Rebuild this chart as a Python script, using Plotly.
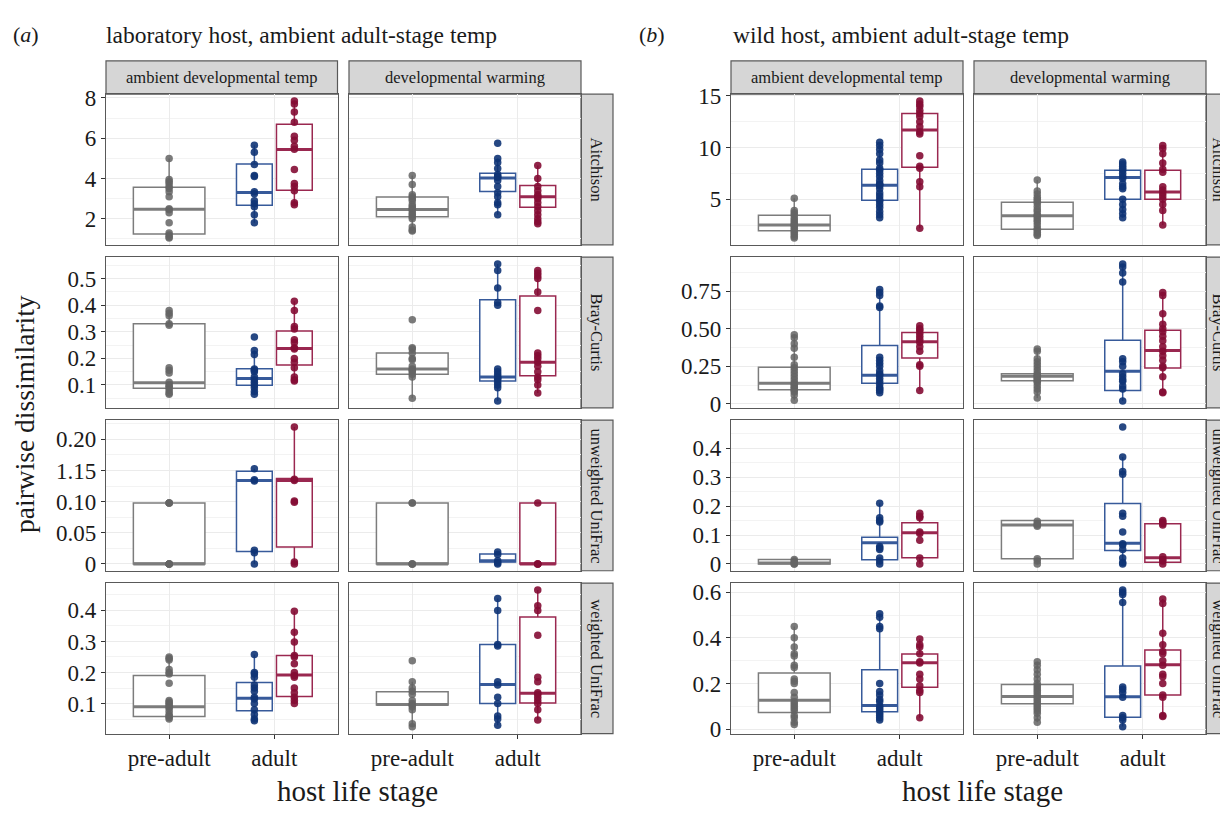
import plotly.graph_objects as go

W, H = 1228, 813          # target picture size
OFF = 8                   # page body margin that shifts the figure
FIG_W, FIG_H = W - OFF, H - OFF
SERIF = "Liberation Serif, Times New Roman, serif"

STAGES = ["pre-adult", "adult"]
DEV_TEMPS = ["ambient developmental temp", "developmental warming"]
METRICS = ["Aitchison", "Bray-Curtis", "unweighted UniFrac", "weighted UniFrac"]
LAB_TITLE = "laboratory host, ambient adult-stage temp"
WILD_TITLE = "wild host, ambient adult-stage temp"
Y_TITLE = "pairwise dissimilarity"
X_TITLE = "host life stage"

LAB_YTICKS = [[2, 4, 6, 8], [0.1, 0.2, 0.3, 0.4, 0.5], [0, 0.05, 0.10, 0.15, 0.20], [0.1, 0.2, 0.3, 0.4]]
LAB_YTICKTEXT = [["2", "4", "6", "8"], ["0.1", "0.2", "0.3", "0.4", "0.5"],
                 ["0", "0.05", "0.10", "1.15", "0.20"], ["0.1", "0.2", "0.3", "0.4"]]
WILD_YTICKS = [[5, 10, 15], [0, 0.25, 0.5, 0.75], [0, 0.1, 0.2, 0.3, 0.4], [0, 0.2, 0.4, 0.6]]
WILD_YTICKTEXT = [["5", "10", "15"], ["0", "0.25", "0.50", "0.75"],
                  ["0", "0.1", "0.2", "0.3", "0.4"], ["0", "0.2", "0.4", "0.6"]]

# ---------------- (a) laboratory host ----------------
# points per group; box stats = [lower whisker, q1, median, q3, upper whisker]
lab_ait_amb_pts = {"grey": [5.0, 3.95, 3.85, 3.75, 3.6, 3.5, 3.35, 3.1, 2.5, 2.45, 2.3, 1.8, 1.3, 1.2, 1.1, 1.05],
                   "blue": [5.65, 5.3, 4.7, 4.15, 4.1, 3.35, 3.25, 2.9, 2.75, 2.6, 2.2, 1.8],
                   "red": [7.85, 7.7, 7.3, 6.8, 6.1, 5.9, 5.6, 5.45, 4.45, 3.75, 3.6, 3.4, 2.8, 2.7]}
lab_ait_amb_box = {"grey": [1.05, 1.25, 2.48, 3.57, 5.0], "blue": [1.8, 2.67, 3.31, 4.72, 5.65],
                   "red": [2.7, 3.42, 5.44, 6.69, 7.85]}
lab_ait_warm_pts = {"grey": [4.15, 3.7, 3.2, 3.1, 3.0, 2.9, 2.7, 2.6, 2.5, 2.45, 2.3, 2.2, 2.1, 2.0, 1.6, 1.45, 1.4],
                    "blue": [5.75, 5.0, 4.8, 4.5, 4.2, 4.1, 4.05, 3.9, 3.6, 3.3, 3.1, 2.8, 2.7, 2.2],
                    "red": [4.65, 4.0, 3.6, 3.4, 3.2, 3.1, 3.0, 2.8, 2.6, 2.4, 2.2, 2.0, 1.85, 1.75]}
lab_ait_warm_box = {"grey": [1.4, 2.1, 2.46, 3.09, 4.15], "blue": [2.2, 3.36, 4.03, 4.26, 5.0],
                    "red": [1.75, 2.57, 3.1, 3.65, 4.65]}

lab_bc_amb_pts = {"grey": [0.38, 0.37, 0.36, 0.33, 0.325, 0.165, 0.155, 0.145, 0.11, 0.1, 0.095, 0.09, 0.08, 0.07, 0.065],
                  "blue": [0.28, 0.23, 0.215, 0.16, 0.155, 0.15, 0.13, 0.12, 0.11, 0.1, 0.09, 0.075, 0.065],
                  "red": [0.415, 0.38, 0.32, 0.31, 0.27, 0.26, 0.24, 0.235, 0.2, 0.185, 0.165, 0.13, 0.12, 0.115]}
lab_bc_amb_box = {"grey": [0.065, 0.088, 0.108, 0.33, 0.38], "blue": [0.065, 0.099, 0.124, 0.161, 0.23],
                  "red": [0.115, 0.175, 0.237, 0.303, 0.415]}
lab_bc_warm_pts = {"grey": [0.345, 0.24, 0.235, 0.22, 0.2, 0.195, 0.17, 0.16, 0.155, 0.15, 0.14, 0.13, 0.05],
                   "blue": [0.555, 0.53, 0.465, 0.41, 0.4, 0.16, 0.15, 0.14, 0.13, 0.125, 0.12, 0.11, 0.1, 0.09, 0.04],
                   "red": [0.53, 0.52, 0.51, 0.5, 0.45, 0.38, 0.22, 0.21, 0.2, 0.185, 0.17, 0.15, 0.13, 0.12, 0.1, 0.07]}
lab_bc_warm_box = {"grey": [0.05, 0.14, 0.16, 0.22, 0.24], "blue": [0.04, 0.115, 0.13, 0.42, 0.555],
                   "red": [0.07, 0.135, 0.185, 0.435, 0.53]}

lab_uu_amb_pts = {"grey": [0.098, 0.098, 0.098, 0.0, 0.0, 0.0, 0.0],
                  "blue": [0.153, 0.135, 0.133, 0.022, 0.018, 0.0],
                  "red": [0.22, 0.136, 0.134, 0.101, 0.099, 0.003, 0.0]}
lab_uu_amb_box = {"grey": [0.0, 0.0, 0.0, 0.098, 0.098], "blue": [0.0, 0.02, 0.134, 0.149, 0.153],
                  "red": [0.0, 0.027, 0.134, 0.137, 0.22]}
lab_uu_warm_pts = {"grey": [0.098, 0.098, 0.0, 0.0, 0.0],
                   "blue": [0.019, 0.015, 0.005, 0.002, 0.0],
                   "red": [0.098, 0.0, 0.0, 0.0]}
lab_uu_warm_box = {"grey": [0.0, 0.0, 0.0, 0.098, 0.098], "blue": [0.0, 0.003, 0.005, 0.016, 0.019],
                   "red": [0.0, 0.0, 0.0, 0.098, 0.098]}

lab_wu_amb_pts = {"grey": [0.25, 0.245, 0.24, 0.21, 0.2, 0.195, 0.165, 0.11, 0.105, 0.1, 0.095, 0.09, 0.085, 0.075, 0.065, 0.06, 0.055, 0.05],
                  "blue": [0.258, 0.2, 0.195, 0.185, 0.16, 0.15, 0.14, 0.12, 0.115, 0.1, 0.08, 0.065, 0.05, 0.045],
                  "red": [0.397, 0.33, 0.298, 0.255, 0.25, 0.228, 0.2, 0.19, 0.185, 0.15, 0.135, 0.12, 0.11, 0.1]}
lab_wu_amb_box = {"grey": [0.05, 0.058, 0.09, 0.19, 0.25], "blue": [0.045, 0.077, 0.117, 0.168, 0.258],
                  "red": [0.1, 0.123, 0.192, 0.255, 0.397]}
lab_wu_warm_pts = {"grey": [0.238, 0.17, 0.15, 0.14, 0.13, 0.11, 0.1, 0.095, 0.09, 0.08, 0.035, 0.025],
                   "blue": [0.438, 0.4, 0.29, 0.285, 0.17, 0.16, 0.12, 0.1, 0.06, 0.05, 0.03],
                   "red": [0.466, 0.415, 0.4, 0.32, 0.185, 0.17, 0.135, 0.13, 0.12, 0.11, 0.1, 0.08, 0.047]}
lab_wu_warm_box = {"grey": [0.025, 0.095, 0.097, 0.138, 0.17], "blue": [0.03, 0.1, 0.161, 0.29, 0.438],
                   "red": [0.047, 0.102, 0.133, 0.379, 0.466]}

# ---------------- (b) wild host ----------------
wild_ait_amb_pts = {"grey": [5.1, 3.9, 3.7, 3.5, 3.2, 3.0, 2.8, 2.6, 2.5, 2.4, 2.2, 2.0, 1.8, 1.6, 1.4, 1.25],
                    "blue": [10.5, 10.2, 9.8, 9.4, 8.8, 8.5, 8.0, 7.8, 7.5, 7.2, 6.8, 6.5, 6.4, 6.3, 6.0, 5.6, 5.3, 5.0, 4.8, 4.5, 4.2, 3.8, 3.5, 3.2],
                    "red": [14.5, 14.2, 14.0, 13.6, 13.3, 13.0, 12.5, 12.0, 11.5, 11.3, 9.2, 8.2, 8.0, 6.7, 6.2, 2.2]}
wild_ait_amb_box = {"grey": [1.25, 1.95, 2.5, 3.45, 5.1], "blue": [3.2, 4.9, 6.35, 7.9, 10.5],
                    "red": [2.2, 8.1, 11.7, 13.3, 14.5]}
wild_ait_warm_pts = {"grey": [6.85, 5.8, 5.5, 5.2, 5.0, 4.8, 4.6, 4.3, 4.0, 3.8, 3.5, 3.4, 3.2, 3.0, 2.8, 2.5, 2.2, 2.0, 1.8, 1.6, 1.5],
                     "blue": [8.6, 8.4, 8.2, 8.0, 7.8, 7.5, 7.2, 7.0, 6.5, 6.2, 6.0, 5.0, 4.5, 4.0, 3.6, 3.2],
                     "red": [10.2, 9.9, 9.4, 8.5, 7.9, 7.6, 6.2, 5.9, 5.6, 5.3, 5.0, 4.5, 3.9, 2.5]}
wild_ait_warm_box = {"grey": [1.5, 2.1, 3.4, 4.7, 6.85], "blue": [3.2, 5.0, 7.1, 7.8, 8.6],
                     "red": [2.5, 5.0, 5.7, 7.8, 10.2]}

wild_bc_amb_pts = {"grey": [0.46, 0.44, 0.4, 0.37, 0.31, 0.26, 0.24, 0.22, 0.2, 0.18, 0.16, 0.14, 0.13, 0.12, 0.11, 0.1, 0.09, 0.08, 0.06, 0.025],
                   "blue": [0.76, 0.74, 0.72, 0.65, 0.64, 0.31, 0.29, 0.27, 0.25, 0.22, 0.2, 0.19, 0.17, 0.15, 0.13, 0.11, 0.1, 0.09, 0.075],
                   "red": [0.52, 0.5, 0.49, 0.47, 0.45, 0.43, 0.41, 0.38, 0.35, 0.26, 0.25, 0.09]}
wild_bc_amb_box = {"grey": [0.025, 0.094, 0.137, 0.244, 0.46], "blue": [0.075, 0.137, 0.19, 0.389, 0.76],
                   "red": [0.09, 0.306, 0.414, 0.474, 0.52]}
wild_bc_warm_pts = {"grey": [0.365, 0.35, 0.3, 0.28, 0.26, 0.24, 0.22, 0.2, 0.19, 0.18, 0.17, 0.16, 0.15, 0.14, 0.12, 0.1, 0.08, 0.04],
                    "blue": [0.93, 0.91, 0.87, 0.81, 0.3, 0.28, 0.25, 0.2, 0.18, 0.16, 0.15, 0.12, 0.1, 0.02],
                    "red": [0.74, 0.72, 0.6, 0.53, 0.5, 0.48, 0.45, 0.42, 0.38, 0.35, 0.32, 0.29, 0.25, 0.24, 0.18, 0.08, 0.075]}
wild_bc_warm_box = {"grey": [0.04, 0.154, 0.184, 0.2, 0.365], "blue": [0.02, 0.09, 0.218, 0.423, 0.93],
                    "red": [0.075, 0.239, 0.355, 0.489, 0.74]}

wild_uu_amb_pts = {"grey": [0.015, 0.01, 0.005, 0.0, 0.0],
                   "blue": [0.21, 0.16, 0.15, 0.145, 0.06, 0.055, 0.05, 0.02, 0.01, 0.0],
                   "red": [0.175, 0.165, 0.16, 0.11, 0.105, 0.082, 0.02, 0.0]}
wild_uu_amb_box = {"grey": [0.0, 0.0, 0.003, 0.015, 0.015], "blue": [0.0, 0.0145, 0.073, 0.092, 0.21],
                   "red": [0.0, 0.021, 0.108, 0.1425, 0.175]}
wild_uu_warm_pts = {"grey": [0.148, 0.14, 0.135, 0.13, 0.018, 0.01, 0.0],
                    "blue": [0.474, 0.37, 0.32, 0.31, 0.175, 0.165, 0.11, 0.07, 0.065, 0.05, 0.02, 0.005, 0.0],
                    "red": [0.15, 0.145, 0.14, 0.135, 0.025, 0.015, 0.01, 0.0]}
wild_uu_warm_box = {"grey": [0.0, 0.018, 0.135, 0.15, 0.15], "blue": [0.0, 0.046, 0.071, 0.209, 0.37],
                    "red": [0.0, 0.0056, 0.021, 0.139, 0.15]}

wild_wu_amb_pts = {"grey": [0.45, 0.4, 0.36, 0.33, 0.32, 0.28, 0.27, 0.22, 0.21, 0.2, 0.16, 0.14, 0.12, 0.11, 0.1, 0.09, 0.08, 0.06, 0.05, 0.03, 0.02],
                   "blue": [0.505, 0.49, 0.45, 0.44, 0.2, 0.165, 0.15, 0.13, 0.12, 0.1, 0.09, 0.08, 0.07, 0.06, 0.05, 0.04],
                   "red": [0.395, 0.37, 0.36, 0.33, 0.295, 0.29, 0.24, 0.22, 0.19, 0.17, 0.16, 0.05]}
wild_wu_amb_box = {"grey": [0.02, 0.073, 0.126, 0.246, 0.45], "blue": [0.038, 0.076, 0.104, 0.26, 0.505],
                   "red": [0.05, 0.183, 0.291, 0.329, 0.395]}
wild_wu_warm_pts = {"grey": [0.295, 0.28, 0.26, 0.24, 0.22, 0.2, 0.19, 0.18, 0.17, 0.16, 0.15, 0.14, 0.13, 0.12, 0.11, 0.1, 0.09, 0.08, 0.07, 0.05, 0.03],
                    "blue": [0.61, 0.6, 0.59, 0.555, 0.185, 0.175, 0.16, 0.14, 0.06, 0.05, 0.04, 0.01],
                    "red": [0.57, 0.55, 0.42, 0.37, 0.34, 0.33, 0.3, 0.28, 0.24, 0.23, 0.2, 0.15, 0.14, 0.06, 0.055]}
wild_wu_warm_box = {"grey": [0.03, 0.111, 0.143, 0.195, 0.295], "blue": [0.012, 0.052, 0.142, 0.277, 0.61],
                    "red": [0.055, 0.149, 0.282, 0.347, 0.57]}

LAB = [[(lab_ait_amb_pts, lab_ait_amb_box), (lab_ait_warm_pts, lab_ait_warm_box)],
       [(lab_bc_amb_pts, lab_bc_amb_box), (lab_bc_warm_pts, lab_bc_warm_box)],
       [(lab_uu_amb_pts, lab_uu_amb_box), (lab_uu_warm_pts, lab_uu_warm_box)],
       [(lab_wu_amb_pts, lab_wu_amb_box), (lab_wu_warm_pts, lab_wu_warm_box)]]
WILD = [[(wild_ait_amb_pts, wild_ait_amb_box), (wild_ait_warm_pts, wild_ait_warm_box)],
        [(wild_bc_amb_pts, wild_bc_amb_box), (wild_bc_warm_pts, wild_bc_warm_box)],
        [(wild_uu_amb_pts, wild_uu_amb_box), (wild_uu_warm_pts, wild_uu_warm_box)],
        [(wild_wu_amb_pts, wild_wu_amb_box), (wild_wu_warm_pts, wild_wu_warm_box)]]

# ---------------- styling / geometry ----------------
GROUPS = ["grey", "blue", "red"]
GROUP_X = {"grey": 1.0, "blue": 1.81, "red": 2.19}
GROUP_W = {"grey": 0.68, "blue": 0.34, "red": 0.34}
POINT_COL = {"grey": "rgba(100,100,100,0.85)", "blue": "rgba(15,52,118,0.9)", "red": "rgba(132,12,52,0.9)"}
BOX_COL = {"grey": "#7c7c7c", "blue": "#375a9a", "red": "#9a2850"}
BORDER = "#595959"
STRIP_FILL = "#d6d6d6"
GRID = "#ebebeb"
MINOR_GRID = "#f3f3f3"
TEXT = "#1a1a1a"

STRIP_Y = (52, 86)
ROWS_PX = [(86, 240.3), (252.9, 407.2), (419.8, 574.1), (586.7, 741)]
PANELS = [
    dict(tag="a", title=LAB_TITLE, facets=LAB, cols=[(106, 337.5), (349, 581)], strip_x=(581, 613),
         strip_text_x=597, yticks=LAB_YTICKS, yticktext=LAB_YTICKTEXT, tag_x=11, title_x=104,
         xtitle_x=357, ytitle=True),
    dict(tag="b", title=WILD_TITLE, facets=WILD, cols=[(731, 963), (974, 1206)], strip_x=(1206, 1238),
         strip_text_x=1219, yticks=WILD_YTICKS, yticktext=WILD_YTICKTEXT, tag_x=637, title_x=731,
         xtitle_x=982, ytitle=False),
]


def fx(p):
    return (p - OFF) / FIG_W


def fy(p):
    return 1 - (p - OFF) / FIG_H


fig = go.Figure()
shapes, annotations, axes = [], [], {}
k = 0
for P in PANELS:
    for r in range(4):
        vals = []
        for c in range(2):
            pts, box = P["facets"][r][c]
            for g in GROUPS:
                vals += pts[g] + box[g]
        lo, hi = min(vals), max(vals)
        pad = 0.05 * (hi - lo)
        yrange = [lo - pad, hi + pad]
        major = P["yticks"][r]
        step = major[1] - major[0]
        minor = [m - step / 2 for m in major] + [major[-1] + step / 2]
        minor = [m for m in minor if yrange[0] <= m <= yrange[1]]
        y_top, y_bot = ROWS_PX[r]
        for c in range(2):
            k += 1
            xs = "" if k == 1 else str(k)
            x0, x1 = P["cols"][c]
            bottom = r == 3
            left = c == 0
            axes["xaxis" + xs] = dict(
                domain=[fx(x0), fx(x1)], anchor="y" + xs, range=[0.4, 2.6],
                tickmode="array", tickvals=[1, 2], ticktext=STAGES,
                showticklabels=bottom, ticks="outside" if bottom else "", ticklen=4, tickcolor="#333",
                tickfont=dict(family=SERIF, size=23, color=TEXT),
                showgrid=True, gridcolor=GRID, gridwidth=1.1, zeroline=False,
                showline=True, mirror=True, linecolor=BORDER, linewidth=1.2, fixedrange=True)
            axes["yaxis" + xs] = dict(
                domain=[fy(y_bot), fy(y_top)], anchor="x" + xs, range=yrange,
                tickmode="array", tickvals=major, ticktext=P["yticktext"][r],
                showticklabels=left, ticks="outside" if left else "", ticklen=4, tickcolor="#333",
                tickfont=dict(family=SERIF, size=23, color=TEXT),
                showgrid=True, gridcolor=GRID, gridwidth=1.1, zeroline=False,
                minor=dict(tickmode="array", tickvals=minor, showgrid=True, gridcolor=MINOR_GRID,
                           gridwidth=0.7, ticks=""),
                showline=True, mirror=True, linecolor=BORDER, linewidth=1.2, fixedrange=True)
            pts, box = P["facets"][r][c]
            xr, yr = "x" + xs, "y" + xs
            for g in GROUPS:
                b = box[g]
                fig.add_trace(go.Box(
                    x=[GROUP_X[g]], q1=[b[1]], median=[b[2]], q3=[b[3]],
                    lowerfence=[b[0]], upperfence=[b[4]], width=GROUP_W[g], orientation="v",
                    fillcolor="white", line=dict(color=BOX_COL[g], width=1.5), whiskerwidth=0,
                    boxpoints=False, showlegend=False, hoverinfo="skip", xaxis=xr, yaxis=yr))
            for g in GROUPS:
                b = box[g]
                fig.add_trace(go.Scatter(
                    x=[GROUP_X[g] - GROUP_W[g] / 2, GROUP_X[g] + GROUP_W[g] / 2], y=[b[2], b[2]],
                    mode="lines", line=dict(color=BOX_COL[g], width=3), showlegend=False,
                    hoverinfo="skip", xaxis=xr, yaxis=yr))
            for g in GROUPS:
                fig.add_trace(go.Scatter(
                    x=[GROUP_X[g]] * len(pts[g]), y=pts[g], mode="markers",
                    marker=dict(color=POINT_COL[g], size=7.5, line=dict(width=0)),
                    showlegend=False, hoverinfo="skip", xaxis=xr, yaxis=yr))
            if r == 0:
                shapes.append(dict(type="rect", xref="paper", yref="paper", x0=fx(x0), x1=fx(x1),
                                   y0=fy(STRIP_Y[1]), y1=fy(STRIP_Y[0]), fillcolor=STRIP_FILL,
                                   line=dict(color=BORDER, width=1.2), layer="below"))
                annotations.append(dict(text=DEV_TEMPS[c], xref="paper", yref="paper",
                                        x=fx((x0 + x1) / 2), y=fy(sum(STRIP_Y) / 2), showarrow=False,
                                        font=dict(family=SERIF, size=16.5, color=TEXT),
                                        xanchor="center", yanchor="middle"))
        sx0, sx1 = P["strip_x"]
        shapes.append(dict(type="rect", xref="paper", yref="paper", x0=fx(sx0), x1=fx(sx1),
                           y0=fy(y_bot), y1=fy(y_top), fillcolor=STRIP_FILL,
                           line=dict(color=BORDER, width=1.2), layer="below"))
        annotations.append(dict(text=METRICS[r], xref="paper", yref="paper",
                                x=fx(P["strip_text_x"]), y=fy((y_top + y_bot) / 2), showarrow=False,
                                textangle=90, font=dict(family=SERIF, size=16.5, color=TEXT),
                                xanchor="center", yanchor="middle"))
    annotations.append(dict(text="(<i>%s</i>)" % P["tag"], xref="paper", yref="paper",
                            x=fx(P["tag_x"]), y=fy(25), showarrow=False, xanchor="left", yanchor="middle",
                            font=dict(family=SERIF, size=22, color=TEXT)))
    annotations.append(dict(text=P["title"], xref="paper", yref="paper",
                            x=fx(P["title_x"]), y=fy(25), showarrow=False, xanchor="left", yanchor="middle",
                            font=dict(family=SERIF, size=23.5, color=TEXT)))
    annotations.append(dict(text=X_TITLE, xref="paper", yref="paper",
                            x=fx(P["xtitle_x"]), y=fy(800), showarrow=False, xanchor="center",
                            yanchor="middle", font=dict(family=SERIF, size=29, color=TEXT)))
    if P["ytitle"]:
        annotations.append(dict(text=Y_TITLE, xref="paper", yref="paper",
                                x=fx(25), y=fy((ROWS_PX[0][0] + ROWS_PX[3][1]) / 2), showarrow=False,
                                textangle=-90, xanchor="center", yanchor="middle",
                                font=dict(family=SERIF, size=27.5, color=TEXT)))

fig.update_layout(
    width=FIG_W, height=FIG_H, autosize=False, margin=dict(l=0, r=0, t=0, b=0),
    font=dict(family=SERIF, color=TEXT),
    paper_bgcolor="white", plot_bgcolor="white", showlegend=False,
    shapes=shapes, annotations=annotations, boxmode="overlay", **axes)

fig.write_html("out.html")
